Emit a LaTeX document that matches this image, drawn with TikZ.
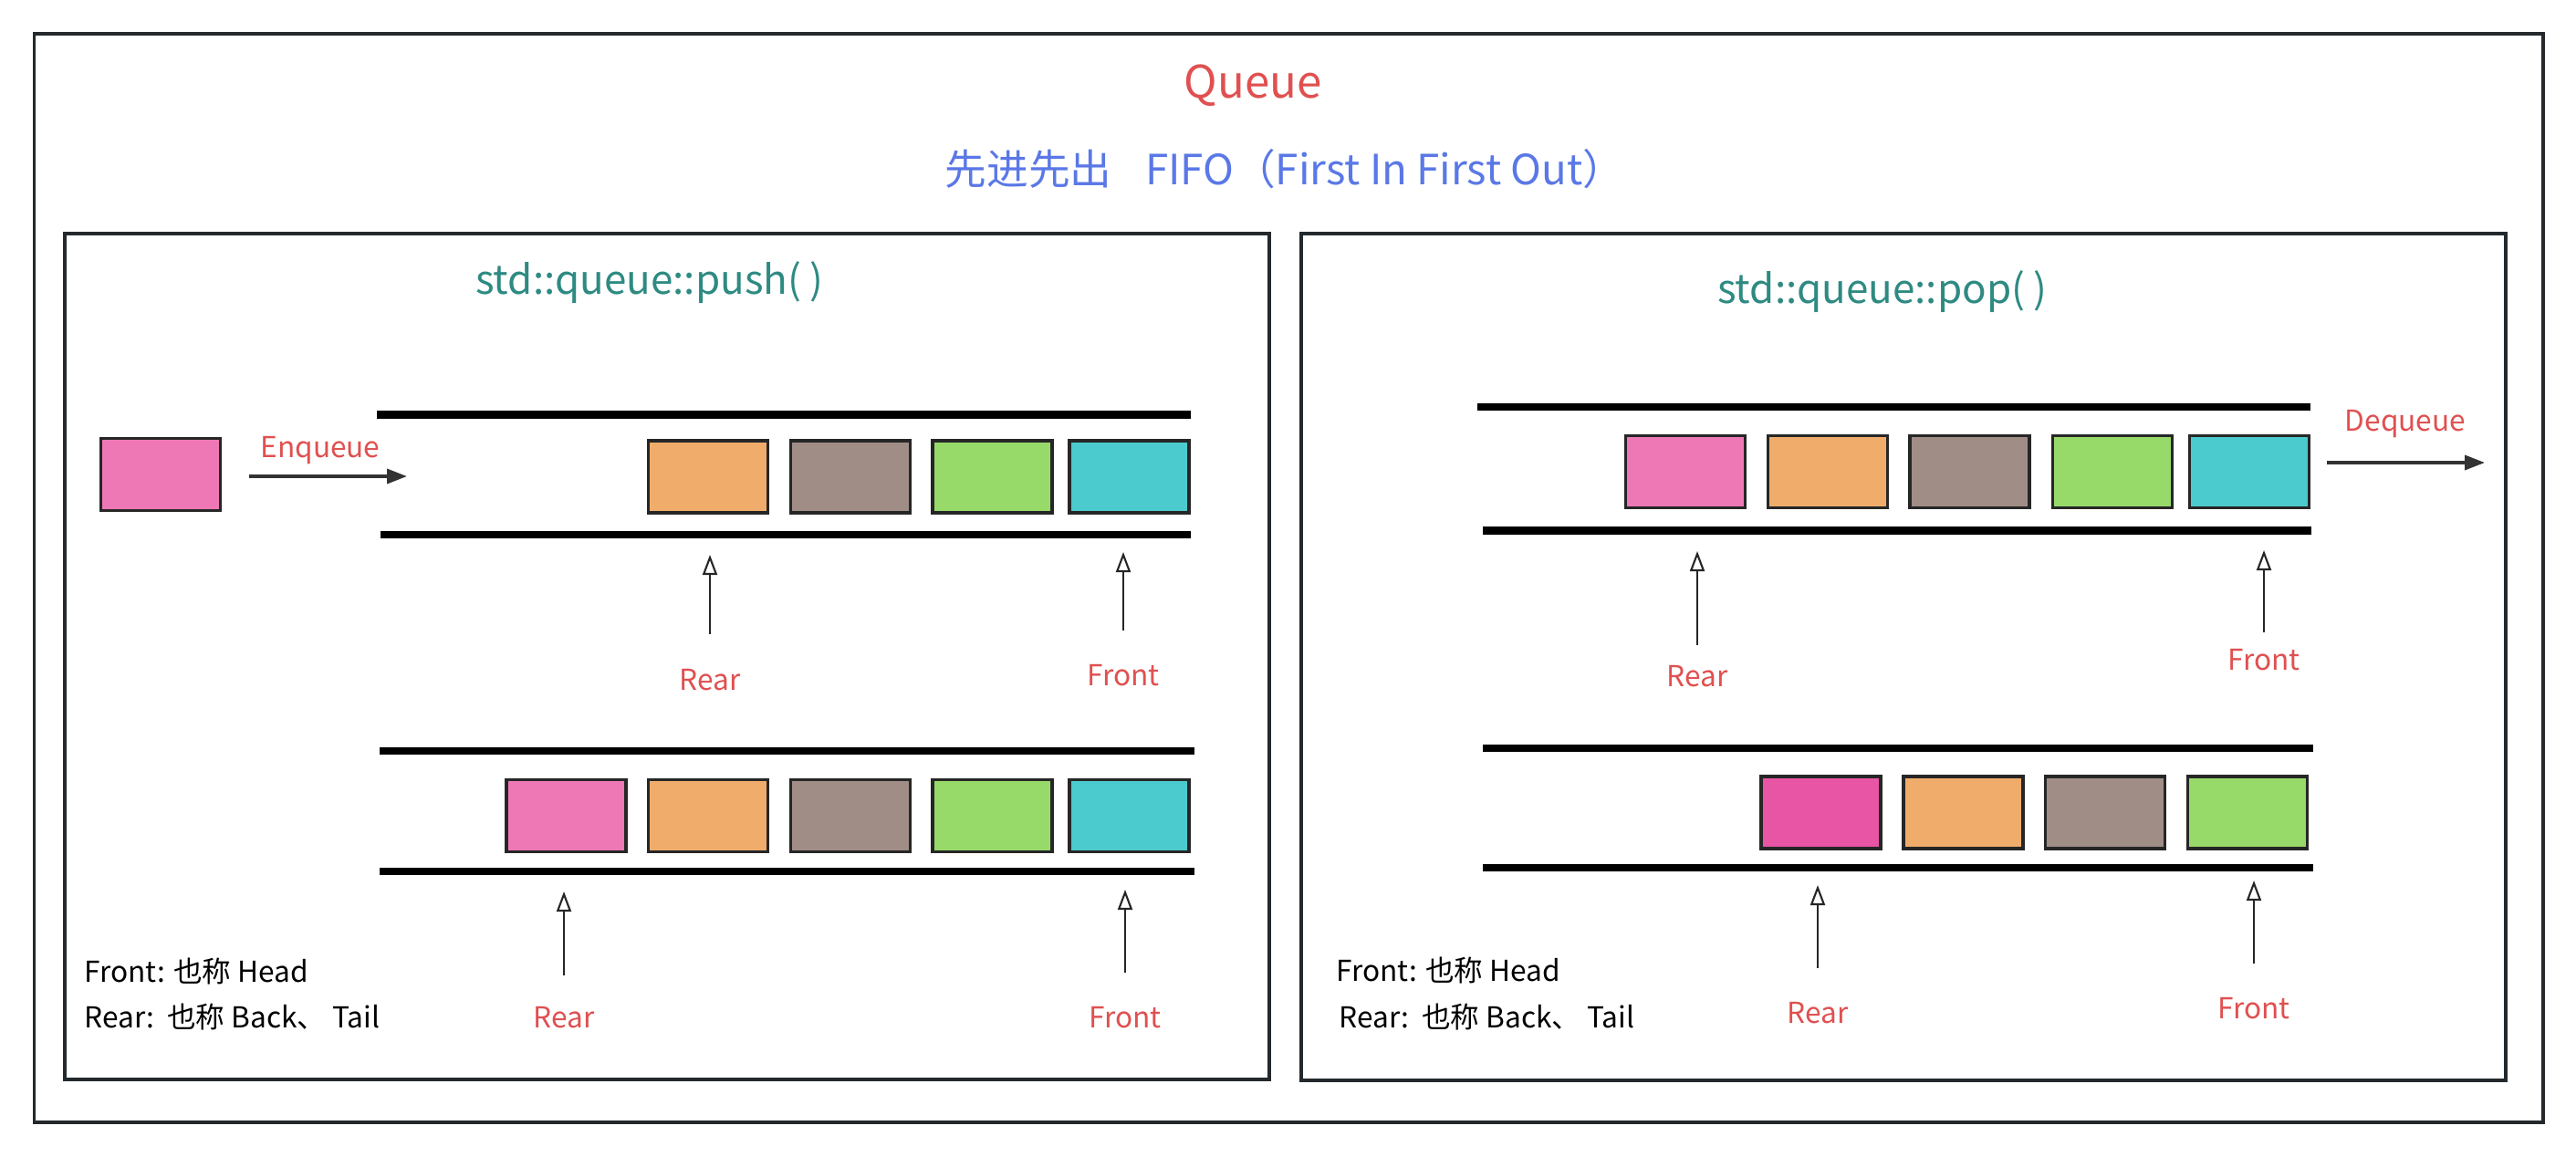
\documentclass[tikz,border=0pt]{standalone}
\usepackage{fontspec}
\setmainfont{Noto Sans CJK SC}
\usetikzlibrary{arrows.meta}
\definecolor{qred}{RGB}{224,80,80}
\definecolor{qblue}{RGB}{90,120,230}
\definecolor{qteal}{RGB}{46,138,130}
\definecolor{qframe}{RGB}{35,41,45}
\definecolor{pinkbox}{RGB}{238,120,182}
\definecolor{magentabox}{RGB}{232,85,164}
\definecolor{orangebox}{RGB}{240,172,106}
\definecolor{brownbox}{RGB}{160,141,134}
\definecolor{greenbox}{RGB}{151,218,105}
\definecolor{cyanbox}{RGB}{75,203,205}
\begin{document}
\begin{tikzpicture}[
  elem/.style={draw=black!85,line width=1pt,minimum width=1.31cm,minimum height=0.79cm,inner sep=0pt},
  rail/.style={line width=2.3pt,black},
  frame/.style={draw=qframe,line width=0.9pt},
  lbl/.style={text=qred,font=\fontsize{9}{10}\selectfont},
  note/.style={anchor=west,font=\fontsize{9}{11}\selectfont},
  ptr/.style={-{Triangle[open,length=0.22cm,width=0.16cm]},line width=0.6pt,black!85},
  mv/.style={-{Triangle[length=0.22cm,width=0.16cm]},line width=1pt,black!80}]
\useasboundingbox (0,0) rectangle (28.23,-12.67);
\draw[frame] (0.375,-0.37) rectangle (27.87,-12.30);
\node[text=qred,font=\fontsize{14}{16}\selectfont] (title) at (13.73,-0.94) {Queue};
\node[text=qblue,font=\fontsize{13}{15}\selectfont] (subtitle) at (14.08,-1.85) {先进先出\hspace{0.8em}FIFO（First In First Out）};

% push
\draw[frame] (0.71,-2.56) rectangle (13.91,-11.83);
\node[text=qteal,font=\fontsize{12.5}{14}\selectfont] (pushtitle) at (7.12,-3.10) {std::queue::push( )};
\draw[rail] (4.13,-4.545) -- (13.05,-4.545);
\draw[rail] (4.17,-5.86) -- (13.05,-5.86);
\node[elem,fill=pinkbox] (pushin) at (1.76,-5.20) {};
\node[lbl] (enq) at (3.51,-4.94) {Enqueue};
\coordinate (enqend) at (4.46,-5.22);
\draw[mv] ([xshift=3mm]pushin.east |- enqend) -- (enqend);
\node[elem,fill=orangebox] (pa2) at (7.76,-5.225) {};
\node[elem,fill=brownbox] (pa3) at (9.32,-5.225) {};
\node[elem,fill=greenbox] (pa4) at (10.875,-5.225) {};
\node[elem,fill=cyanbox] (pa5) at (12.375,-5.225) {};
\node[lbl] (parear) at (7.78,-7.45) {Rear};
\node[lbl] (pafront) at (12.31,-7.40) {Front};
\coordinate (pareartip) at (7.78,-6.08);
\coordinate (pafronttip) at (12.31,-6.05);
\draw[ptr] ([yshift=5mm]parear.center) -- (pareartip);
\draw[ptr] ([yshift=4.9mm]pafront.center) -- (pafronttip);

\draw[rail] (4.16,-8.23) -- (13.09,-8.23);
\draw[rail] (4.16,-9.55) -- (13.09,-9.55);
\node[elem,fill=pinkbox] (pb1) at (6.205,-8.94) {};
\node[elem,fill=orangebox] (pb2) at (7.76,-8.94) {};
\node[elem,fill=brownbox] (pb3) at (9.32,-8.94) {};
\node[elem,fill=greenbox] (pb4) at (10.875,-8.94) {};
\node[elem,fill=cyanbox] (pb5) at (12.375,-8.94) {};
\node[lbl] (pbrear) at (6.18,-11.15) {Rear};
\node[lbl] (pbfront) at (12.33,-11.15) {Front};
\coordinate (pbreartip) at (6.18,-9.77);
\coordinate (pbfronttip) at (12.33,-9.75);
\draw[ptr] ([yshift=4.6mm]pbrear.center) -- (pbreartip);
\draw[ptr] ([yshift=4.9mm]pbfront.center) -- (pbfronttip);
\node[note] (pushnote1) at (0.80,-10.65) {Front: 也称 Head};
\node[note] (pushnote2) at (0.80,-11.15) {Rear:\ \ 也称 Back、 Tail};

% pop
\draw[frame] (14.26,-2.56) rectangle (27.46,-11.84);
\node[text=qteal,font=\fontsize{12.5}{14}\selectfont] (poptitle) at (20.63,-3.20) {std::queue::pop( )};
\draw[rail] (16.19,-4.457) -- (25.32,-4.457);
\draw[rail] (16.25,-5.815) -- (25.33,-5.815);
\node[elem,fill=pinkbox] (qa1) at (18.47,-5.17) {};
\node[elem,fill=orangebox] (qa2) at (20.03,-5.17) {};
\node[elem,fill=brownbox] (qa3) at (21.585,-5.17) {};
\node[elem,fill=greenbox] (qa4) at (23.15,-5.17) {};
\node[elem,fill=cyanbox] (qa5) at (24.65,-5.17) {};
\node[lbl] (deq) at (26.36,-4.65) {Dequeue};
\coordinate (deqend) at (27.23,-5.07);
\draw[mv] ([xshift=1.8mm]qa5.east |- deqend) -- (deqend);
\node[lbl] (qarear) at (18.60,-7.41) {Rear};
\node[lbl] (qafront) at (24.81,-7.23) {Front};
\coordinate (qareartip) at (18.60,-6.04);
\coordinate (qafronttip) at (24.81,-6.03);
\draw[ptr] ([yshift=3.4mm]qarear.center) -- (qareartip);
\draw[ptr] ([yshift=3.0mm]qafront.center) -- (qafronttip);

\draw[rail] (16.25,-8.20) -- (25.35,-8.20);
\draw[rail] (16.25,-9.51) -- (25.35,-9.51);
\node[elem,fill=magentabox] (qb1) at (19.955,-8.905) {};
\node[elem,fill=orangebox] (qb2) at (21.515,-8.905) {};
\node[elem,fill=brownbox] (qb3) at (23.07,-8.905) {};
\node[elem,fill=greenbox] (qb4) at (24.63,-8.905) {};
\node[lbl] (qbrear) at (19.92,-11.10) {Rear};
\node[lbl] (qbfront) at (24.70,-11.05) {Front};
\coordinate (qbreartip) at (19.92,-9.70);
\coordinate (qbfronttip) at (24.70,-9.65);
\draw[ptr] ([yshift=4.9mm]qbrear.center) -- (qbreartip);
\draw[ptr] ([yshift=4.9mm]qbfront.center) -- (qbfronttip);
\node[note] (popnote1) at (14.52,-10.64) {Front: 也称 Head};
\node[note] (popnote2) at (14.55,-11.15) {Rear:\ \ 也称 Back、 Tail};
\end{tikzpicture}
\end{document}
